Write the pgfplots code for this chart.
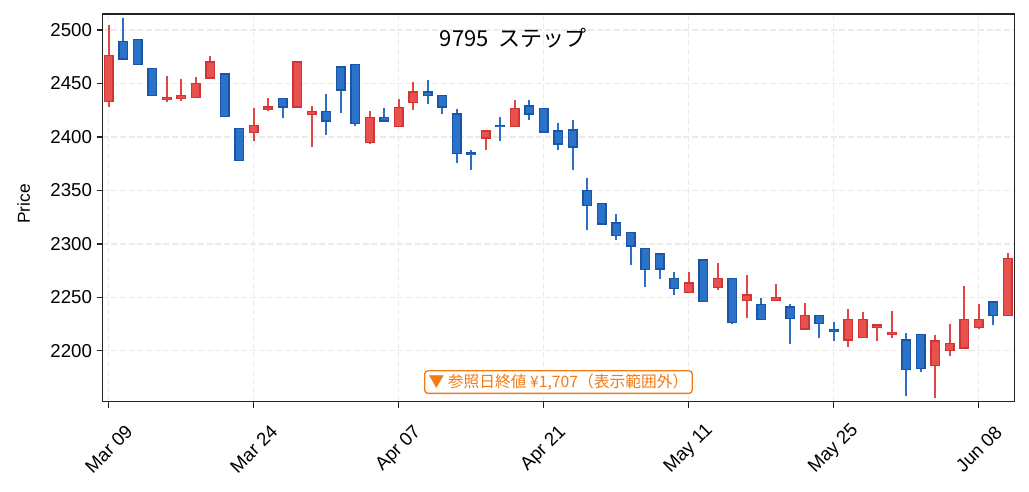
\documentclass[border=0pt]{standalone}
\usepackage{pgfplots}
\pgfplotsset{compat=1.18}
\usepackage{pgfplotstable}
\usepackage{fontspec}
\setmainfont{Liberation Sans}
\newfontfamily\cjk{Noto Sans CJK JP}
\definecolor{upfill}{HTML}{E8514D}
\definecolor{upedge}{HTML}{CF3535}
\definecolor{upwick}{HTML}{E24545}
\definecolor{dnfill}{HTML}{2B73C9}
\definecolor{dnedge}{HTML}{1A55A6}
\definecolor{dnwick}{HTML}{2A70C6}
\definecolor{anno}{HTML}{F47A14}
\definecolor{gridc}{HTML}{EBEBEB}
\definecolor{spine}{HTML}{222222}

\pgfplotstableread{
x o h l c
0 2433 2505 2428 2476
4 2435 2457 2433 2437
5 2436 2454 2434 2439
6 2437 2456 2437 2450
7 2455 2476 2455 2470
10 2404 2427 2396 2411
11 2426 2436 2424 2428
13 2428 2470 2428 2470
14 2421 2429 2391 2424
18 2395 2424 2393 2418
20 2409.5 2435.5 2409.5 2427.5
21 2432.5 2451.5 2425.5 2442
26 2399 2405.5 2388 2405.5
28 2409.5 2434.5 2409.5 2426.5
40 2254.5 2274 2254.5 2263.5
42 2259 2282.5 2257 2267.5
44 2247 2270.5 2230.5 2252
46 2247 2262 2247 2250
48 2220.5 2244.5 2219.5 2233
51 2210 2239.5 2203.5 2229.5
52 2212.5 2236 2212.5 2229
53 2221.5 2224 2209 2224
54 2215 2237 2212 2217
57 2186.5 2214.5 2156 2209
58 2200.5 2225 2195 2206.5
59 2202.5 2261 2202.5 2229.5
60 2221.5 2243.5 2220.5 2229.5
62 2233 2291 2233 2286.5
}\upcandles

\pgfplotstableread{
x o h l c
1 2489 2511 2473 2473
2 2491 2491 2468 2468
3 2464 2464 2438.5 2438.5
8 2459 2459 2419 2419
9 2408 2408 2378 2378
12 2436 2436 2418 2428
15 2423.5 2440 2402 2415
16 2465.5 2465.5 2422 2444
17 2467.5 2467.5 2410 2412.5
19 2418 2427 2415 2415
22 2442 2453.5 2430.5 2438.5
23 2439 2439 2421 2428
24 2421.5 2426 2376 2384.5
25 2385 2388 2369.5 2383.5
27 2411 2419 2396.5 2409.5
29 2429 2434.5 2416 2421.5
30 2426.5 2426.5 2404.5 2404.5
31 2405.5 2413 2387.5 2393.5
32 2406.5 2416 2369.5 2390.5
33 2350 2362 2313 2336
34 2337.5 2337.5 2317.5 2318.5
35 2319.5 2327.5 2303.5 2307.5
36 2310.5 2310.5 2280 2298
37 2295.5 2295.5 2259.5 2276
38 2290.5 2290.5 2267 2276.5
39 2267.5 2273.5 2252 2258.5
41 2285 2285 2246 2246
43 2267.5 2267.5 2225 2226.5
45 2243.5 2249 2229 2229
47 2241 2243.5 2206.5 2230
49 2233 2233 2212 2225.5
50 2220 2226.5 2209 2218
55 2210 2217 2158 2182.5
56 2215.5 2215.5 2180 2183.5
61 2245.5 2245.5 2224 2233
}\dncandles

\begin{document}
\begin{tikzpicture}
\path[use as bounding box] (-77pt,-67pt) rectangle (694.7pt,301.3pt);
\begin{axis}[
  at={(0,0)}, anchor=south west,
  scale only axis, width=683.7pt, height=290.8pt,
  xmin=-0.42, xmax=62.45,
  ymin=2152.3, ymax=2515,
  xtick={0,10,20,30,40,50,60},
  xticklabels={Mar 09,Mar 24,Apr 07,Apr 21,May 11,May 25,Jun 08},
  ytick={2200,2250,...,2500},
  /pgf/number format/assume math mode=true,
  yticklabel style={/pgf/number format/.cd, fixed, 1000 sep={}},
  tick pos=left,
  tick align=outside,
  major tick length=4.5pt,
  tick style={spine, line width=1pt},
  axis line style={spine, line width=1pt},
  grid=major,
  grid style={gridc, line width=1pt, dash pattern=on 4.5pt off 2pt},
  tick label style={font=\fontsize{14}{16}\selectfont, text=black},
  x tick label style={yshift=-31pt, rotate=45, anchor=center},
  ylabel={Price},
  every axis y label/.style={at={(axis description cs:-0.0866,0.51)}, rotate=90, anchor=center, font=\fontsize{13}{15}\selectfont},
  clip=true,
  candle/.style={draw=none, mark=none, forget plot,
    error bars/y dir=plus, error bars/y explicit, error bars/error mark=none},
]
% wicks
\addplot[candle, error bars/error bar style={draw=upwick, line width=1.3pt, line cap=butt}]
  table[x=x, y=l, y error plus expr=\thisrow{h}-\thisrow{l}] {\upcandles};
\addplot[candle, error bars/error bar style={draw=dnwick, line width=1.3pt, line cap=butt}]
  table[x=x, y=l, y error plus expr=\thisrow{h}-\thisrow{l}] {\dncandles};
% bodies: edge layer
\addplot[candle, error bars/error bar style={draw=upedge, line width=7.5pt, line cap=butt, shorten <=-0.5pt, shorten >=-0.5pt}]
  table[x=x, y=o, y error plus expr=\thisrow{c}-\thisrow{o}] {\upcandles};
\addplot[candle, error bars/error bar style={draw=dnedge, line width=7.5pt, line cap=butt, shorten <=-0.5pt, shorten >=-0.5pt}]
  table[x=x, y=c, y error plus expr=\thisrow{o}-\thisrow{c}] {\dncandles};
% bodies: fill layer
\addplot[candle, error bars/error bar style={draw=upfill, line width=5.5pt, line cap=butt, shorten <=0.5pt, shorten >=0.5pt}]
  table[x=x, y=o, y error plus expr=\thisrow{c}-\thisrow{o}] {\upcandles};
\addplot[candle, error bars/error bar style={draw=dnfill, line width=5.5pt, line cap=butt, shorten <=0.5pt, shorten >=0.5pt}]
  table[x=x, y=c, y error plus expr=\thisrow{o}-\thisrow{c}] {\dncandles};

\node[anchor=base west, font=\cjk\fontsize{16.5}{19}\selectfont, text=black]
  at (rel axis cs:0.3647,0.9157) {9795\hspace{0.45em}ステップ};
\node[draw=anno, fill=white, rounded corners=2.5pt, line width=1pt, text=anno,
  font=\cjk\fontsize{11.8}{13}\selectfont, inner xsep=3pt, inner ysep=2.3pt]
  at (rel axis cs:0.5,0.0508) {▼ 参照日終値 ¥1,707（表示範囲外）};
\end{axis}
\end{tikzpicture}
\end{document}
